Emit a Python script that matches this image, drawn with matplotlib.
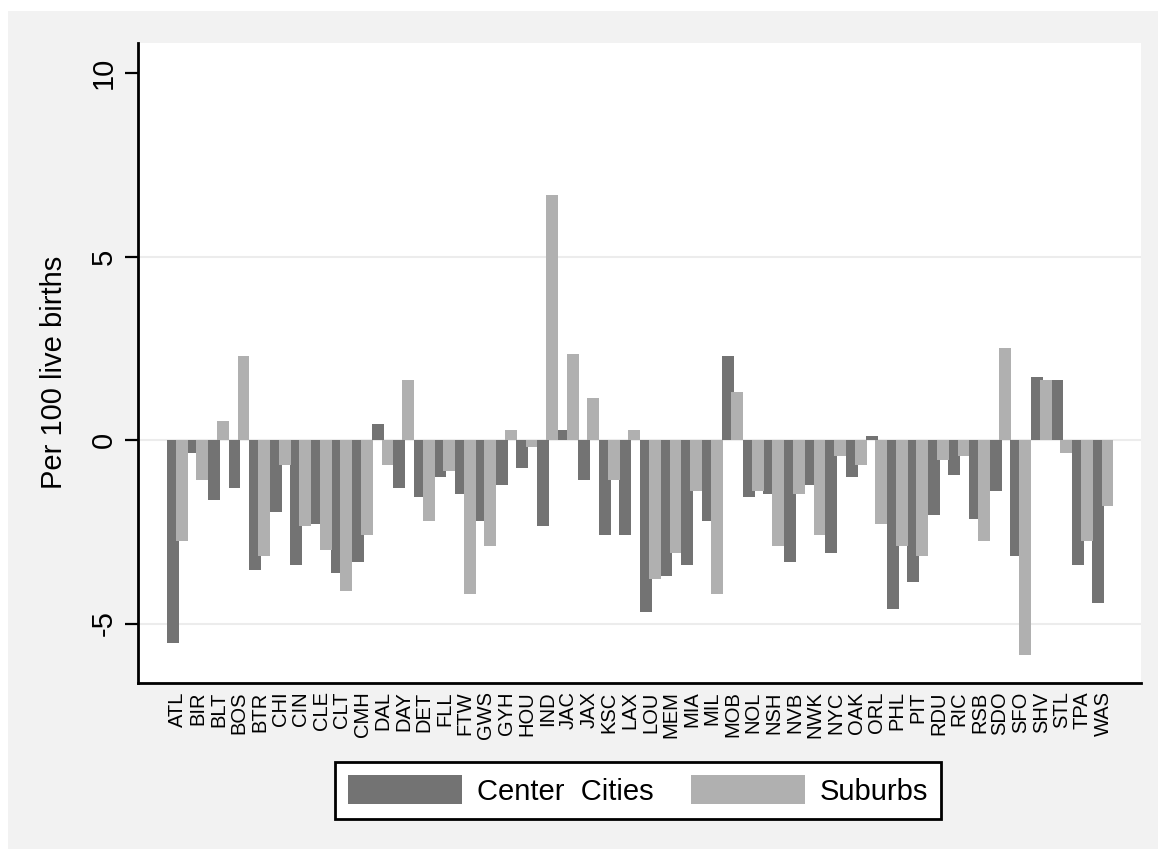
import numpy as np
import matplotlib
matplotlib.use("Agg")
import matplotlib.pyplot as plt
from matplotlib.patches import Rectangle

cities = ["ATL", "BIR", "BLT", "BOS", "BTR", "CHI", "CIN", "CLE", "CLT", "CMH",
          "DAL", "DAY", "DET", "FLL", "FTW", "GWS", "GYH", "HOU", "IND", "JAC",
          "JAX", "KSC", "LAX", "LOU", "MEM", "MIA", "MIL", "MOB", "NOL", "NSH",
          "NVB", "NWK", "NYC", "OAK", "ORL", "PHL", "PIT", "RDU", "RIC", "RSB",
          "SDO", "SFO", "SHV", "STL", "TPA", "WAS"]

center_cities = [-5.54, -0.35, -1.64, -1.30, -3.54, -1.96, -3.40, -2.30, -3.61, -3.32,
                 0.45, -1.30, -1.56, -1.01, -1.48, -2.21, -1.23, -0.77, -2.34, 0.28,
                 -1.10, -2.59, -2.59, -4.68, -3.70, -3.40, -2.21, 2.29, -1.56, -1.48,
                 -3.32, -1.23, -3.09, -1.01, 0.10, -4.59, -3.86, -2.05, -0.94, -2.14,
                 -1.39, -3.16, 1.73, 1.64, -3.40, -4.43]

suburbs = [-2.75, -1.08, 0.52, 2.29, -3.16, -0.69, -2.34, -3.00, -4.11, -2.59,
           -0.69, 1.64, -2.21, -0.85, -4.19, -2.90, 0.28, -0.19, 6.68, 2.34,
           1.15, -1.10, 0.28, -3.79, -3.09, -1.39, -4.19, 1.31, -1.39, -2.90,
           -1.48, -2.59, -0.44, -0.69, -2.30, -2.90, -3.16, -0.53, -0.44, -2.75,
           2.52, -5.87, 1.64, -0.36, -2.75, -1.80]

yticks = [-5, 0, 5, 10]
gridlines = [-5, 0, 5]

DARK = "#737373"
LIGHT = "#b0b0b0"
FONT = "Liberation Sans"

W, H = 1158, 849
fig = plt.figure(figsize=(W / 100, H / 100), dpi=100, facecolor="white")
bg = Rectangle((8 / W, 0), 1 - 8 / W, 1 - 11 / H, transform=fig.transFigure,
               facecolor="#f2f2f2", edgecolor="none", zorder=-10)
fig.patches.append(bg)

ax = fig.add_axes([138 / W, 1 - 683 / H, (1141 - 138) / W, (683 - 43) / H])
ax.set_zorder(1)
ax.set_facecolor("white")

x = np.arange(len(cities))
bw = 0.58
b1 = ax.bar(x - 0.22, center_cities, width=bw, color=DARK, zorder=2, label="Center  Cities")
b2 = ax.bar(x + 0.22, suburbs, width=bw, color=LIGHT, zorder=3, label="Suburbs")

for g in gridlines:
    ax.axhline(g, color="#ececec", lw=1.5, zorder=1)

ax.set_xlim(-1.91, 46.85)
ax.set_ylim(-6.62, 10.82)

ax.set_xticks(x)
ax.set_xticklabels(cities, rotation=90, fontsize=14.5, family=FONT)
ax.tick_params(axis="x", length=0, pad=6)

ax.set_yticks(yticks)
ax.set_yticklabels([str(t) for t in yticks], rotation=90, va="center", fontsize=21, family=FONT)
ax.tick_params(axis="y", length=9.5, width=1.6, pad=5, color="black")

ax.set_ylabel("Per 100 live births", fontsize=21, family=FONT)
ax.yaxis.set_label_coords(-0.07, 0.486)

for s in ["top", "right"]:
    ax.spines[s].set_visible(False)
for s in ["left", "bottom"]:
    ax.spines[s].set_linewidth(2.0)
    ax.spines[s].set_color("black")

leg = fig.legend(handles=[b1, b2], loc="center", bbox_to_anchor=(638 / W, 1 - 790.5 / H),
                 ncol=2, prop={"family": FONT, "size": 21}, frameon=True, fancybox=False,
                 edgecolor="black", facecolor="white", framealpha=1,
                 handlelength=3.9, handleheight=1.15, handletextpad=0.5,
                 columnspacing=1.3, borderpad=0.45, borderaxespad=0)
leg.get_frame().set_linewidth(2.0)

fig.savefig("out.png", dpi=100, facecolor=fig.get_facecolor())
